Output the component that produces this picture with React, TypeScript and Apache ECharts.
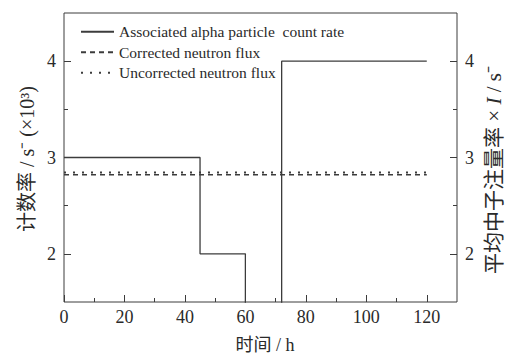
import React, { useEffect, useRef } from "react";
import * as echarts from "echarts";

// Associated alpha particle count rate (step profile), x10^3 s^-1
const alphaTimes = [0, 45, 45, 60, 60, 72, 72, 120];
const alphaRates = [3, 3, 2, 2, 0, 0, 4, 4];

// Neutron flux (mean fluence rate x I)
const fluxTimes = [0, 20, 40, 60, 80, 100, 120];
const correctedFlux = [2.82, 2.82, 2.82, 2.82, 2.82, 2.82, 2.82];
const uncorrectedFlux = [2.845, 2.845, 2.845, 2.845, 2.845, 2.845, 2.845];

const xMajorTicks = [0, 20, 40, 60, 80, 100, 120];
const xMinorTicks = [10, 30, 50, 70, 90, 110];
const yMajorTicks = [2, 3, 4];
const yMinorTicks = [2.5, 3.5];

const seriesNames = [
  "Associated alpha particle  count rate",
  "Corrected neutron flux",
  "Uncorrected neutron flux",
];

const SERIF = "'Liberation Serif', 'Times New Roman', 'Noto Sans CJK SC', serif";
const INK = "#2a2a2a";
const LINE = "#3c3c3c";

export default function App() {
  const ref = useRef<HTMLDivElement>(null);

  useEffect(() => {
    if (!ref.current) return;
    const chart = echarts.init(ref.current, undefined, { renderer: "svg" });

    const pairs = (xs: number[], ys: number[]) => xs.map((x, i) => [x, ys[i]]);

    const xAxisOf = (ticks: number[], len: number, labels: boolean) => ({
      type: "value",
      min: 0,
      max: 130,
      interval: 10,
      position: "bottom",
      axisLine: { show: false, onZero: false },
      axisTick: { show: true, inside: true, length: len, customValues: ticks, lineStyle: { color: LINE } },
      axisLabel: {
        show: labels,
        customValues: ticks,
        margin: 6,
        fontSize: 18,
        fontFamily: SERIF,
        color: INK,
      },
      splitLine: { show: false },
    });
    const yAxisOf = (pos: string, ticks: number[], len: number, labels: boolean) => ({
      type: "value",
      min: 1.5,
      max: 4.5,
      interval: 0.5,
      position: pos,
      axisLine: { show: false, onZero: false },
      axisTick: { show: true, inside: true, length: len, customValues: ticks, lineStyle: { color: LINE } },
      axisLabel: {
        show: labels,
        customValues: ticks,
        margin: 8,
        fontSize: 18,
        fontFamily: SERIF,
        color: INK,
      },
      splitLine: { show: false },
    });

    chart.setOption({
      animation: false,
      backgroundColor: "#ffffff",
      grid: {
        left: 64,
        top: 13,
        right: 49,
        bottom: 52,
        show: true,
        borderColor: LINE,
        borderWidth: 1,
        outerBoundsMode: "none",
      },
      xAxis: [xAxisOf(xMajorTicks, 7, true), xAxisOf(xMinorTicks, 4, false)],
      yAxis: [
        yAxisOf("left", yMajorTicks, 7, true),
        yAxisOf("right", yMajorTicks, 7, true),
        yAxisOf("left", yMinorTicks, 4, false),
        yAxisOf("right", yMinorTicks, 4, false),
      ],
      legend: {
        orient: "vertical",
        left: 75,
        top: 19,
        itemWidth: 33,
        itemHeight: 14,
        itemGap: 5,
        itemStyle: { opacity: 0 },
        textStyle: { fontSize: 15.5, fontFamily: SERIF, color: INK },
        data: seriesNames,
      },
      graphic: [
        {
          type: "text",
          x: 27,
          y: 159,
          rotation: Math.PI / 2,
          style: {
            text: "计数率 / s⁻ (×10³)",
            fontSize: 20,
            fontFamily: SERIF,
            fill: INK,
            align: "center",
            verticalAlign: "middle",
          },
        },
        {
          type: "text",
          x: 494,
          y: 170,
          rotation: Math.PI / 2,
          style: {
            text: "平均中子注量率 × {i|I} / s⁻",
            fontSize: 21,
            fontFamily: SERIF,
            fill: INK,
            align: "center",
            verticalAlign: "middle",
            rich: { i: { fontStyle: "italic", fontSize: 21, fontFamily: SERIF, fill: INK } },
          },
        },
        {
          type: "text",
          x: 265,
          y: 345,
          style: {
            text: "时间 / h",
            fontSize: 18,
            fontFamily: SERIF,
            fill: INK,
            align: "center",
            verticalAlign: "middle",
          },
        },
      ],
      series: [
        {
          name: seriesNames[0],
          type: "line",
          xAxisIndex: 0,
          yAxisIndex: 0,
          data: pairs(alphaTimes, alphaRates),
          showSymbol: false,
          symbol: "none",
          clip: true,
          lineStyle: { color: LINE, width: 1.3, type: "solid" },
          itemStyle: { color: LINE },
        },
        {
          name: seriesNames[1],
          type: "line",
          xAxisIndex: 0,
          yAxisIndex: 0,
          data: pairs(fluxTimes, correctedFlux),
          showSymbol: false,
          symbol: "none",
          lineStyle: { color: LINE, width: 1.5, type: [5, 4] },
          itemStyle: { color: LINE },
        },
        {
          name: seriesNames[2],
          type: "line",
          xAxisIndex: 0,
          yAxisIndex: 0,
          data: pairs(fluxTimes, uncorrectedFlux),
          showSymbol: false,
          symbol: "none",
          lineStyle: { color: LINE, width: 2, type: [2, 7] },
          itemStyle: { color: LINE },
        },
      ],
    });

    return () => chart.dispose();
  }, []);

  return <div ref={ref} style={{ width: 506, height: 354, position: "absolute", left: 0, top: 0 }} />;
}
